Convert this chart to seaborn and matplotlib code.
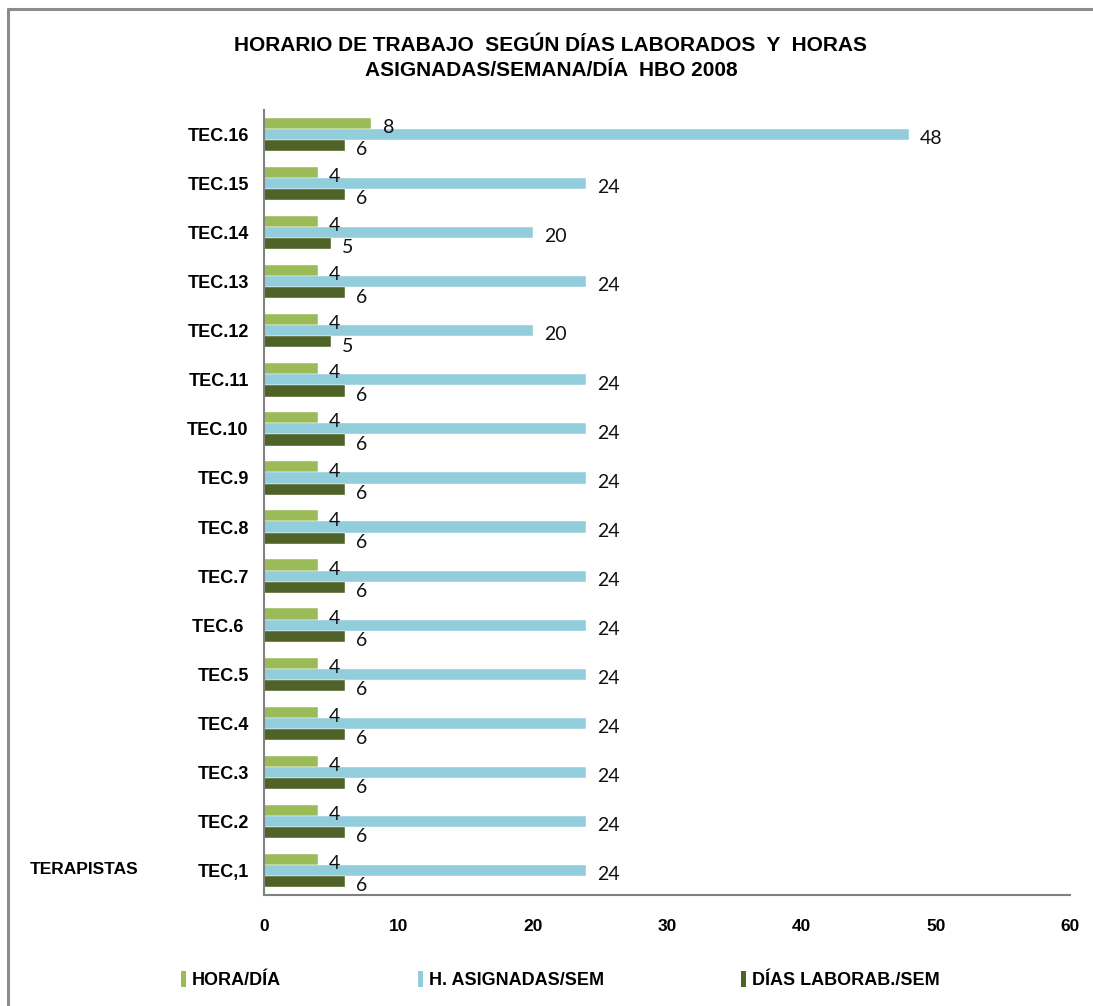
import matplotlib
matplotlib.use("Agg")
import matplotlib.pyplot as plt
from matplotlib.lines import Line2D
from matplotlib.patches import Patch
import seaborn as sns
import pandas as pd

# Technicians, listed top to bottom
tecnicos = ["TEC.16", "TEC.15", "TEC.14", "TEC.13", "TEC.12", "TEC.11", "TEC.10",
            "TEC.9", "TEC.8", "TEC.7", "TEC.6 ", "TEC.5", "TEC.4", "TEC.3", "TEC.2", "TEC,1"]
hora_dia = [8, 4, 4, 4, 4, 4, 4, 4, 4, 4, 4, 4, 4, 4, 4, 4]
h_asignadas_sem = [48, 24, 20, 24, 20, 24, 24, 24, 24, 24, 24, 24, 24, 24, 24, 24]
dias_laborab_sem = [6, 6, 5, 6, 5, 6, 6, 6, 6, 6, 6, 6, 6, 6, 6, 6]
series = ["HORA/DÍA", "H. ASIGNADAS/SEM", "DÍAS LABORAB./SEM"]
colores = ["#9BBB59", "#92CDDC", "#4F6228"]

rows = []
for nombre, vals in zip(series, [hora_dia, h_asignadas_sem, dias_laborab_sem]):
    for t, v in zip(tecnicos, vals):
        rows.append({"tec": t, "serie": nombre, "valor": v})
df = pd.DataFrame(rows)

sns.set_theme(style="white")
plt.rcParams["font.family"] = ["Liberation Sans", "DejaVu Sans"]
plt.rcParams["text.color"] = "black"
plt.rcParams["xtick.color"] = "black"
plt.rcParams["ytick.color"] = "black"

fig = plt.figure(figsize=(10.93, 10.06), dpi=100)
ax = fig.add_axes([264 / 1093, 1 - 895 / 1006, 806 / 1093, 785 / 1006])

sns.barplot(data=df, y="tec", x="valor", hue="serie", order=tecnicos,
            hue_order=series, palette=colores, orient="h", width=0.68,
            edgecolor="white", linewidth=0.3, saturation=1, ax=ax, legend=False)

for cont in ax.containers:
    anns = ax.bar_label(cont, padding=8, fontsize=14, family="Lato", color="#111111")
    for a in anns:
        a.xyann = (8, -3)

ax.set_xlim(0, 60)
ax.set_ylim(15.5, -0.5)
ax.set_xticks(range(0, 61, 10))
ax.set_xlabel("")
ax.set_ylabel("")
ax.tick_params(axis="x", length=0, pad=17, labelsize=12.5)
ax.tick_params(axis="y", length=0, pad=11, labelsize=13)
for lab in ax.get_xticklabels() + ax.get_yticklabels():
    lab.set_fontweight("bold")
for s in ["top", "right"]:
    ax.spines[s].set_visible(False)
for s in ["left", "bottom"]:
    ax.spines[s].set_color("#808080")
    ax.spines[s].set_linewidth(1.5)

fig.text(551 / 1093, 1 - 58 / 1006,
         "HORARIO DE TRABAJO  SEGÚN DÍAS LABORADOS  Y  HORAS\nASIGNADAS/SEMANA/DÍA  HBO 2008",
         ha="center", va="center", fontsize=15, fontweight="bold", linespacing=1.35)
fig.text(30 / 1093, 1 - 870 / 1006, "TERAPISTAS", ha="left", va="center",
         fontsize=12.5, fontweight="bold")

handles = [Patch(facecolor=c, edgecolor="none") for c in colores]
fig.legend(handles, series, loc="center", bbox_to_anchor=(560 / 1093, 1 - 980 / 1006),
           ncol=3, frameon=False, handlelength=0.3, handleheight=1.0, handletextpad=0.3,
           columnspacing=7.6, prop={"weight": "bold", "size": 13})

# chart-area frame: top and left edges
fig.add_artist(Line2D([8 / 1093, 1.0], [1 - 9 / 1006, 1 - 9 / 1006],
                      transform=fig.transFigure, color="#8c8c8c", linewidth=2.2))
fig.add_artist(Line2D([8 / 1093, 8 / 1093], [0.0, 1 - 9 / 1006],
                      transform=fig.transFigure, color="#8c8c8c", linewidth=2.2))

fig.savefig("out.png", dpi=100)
